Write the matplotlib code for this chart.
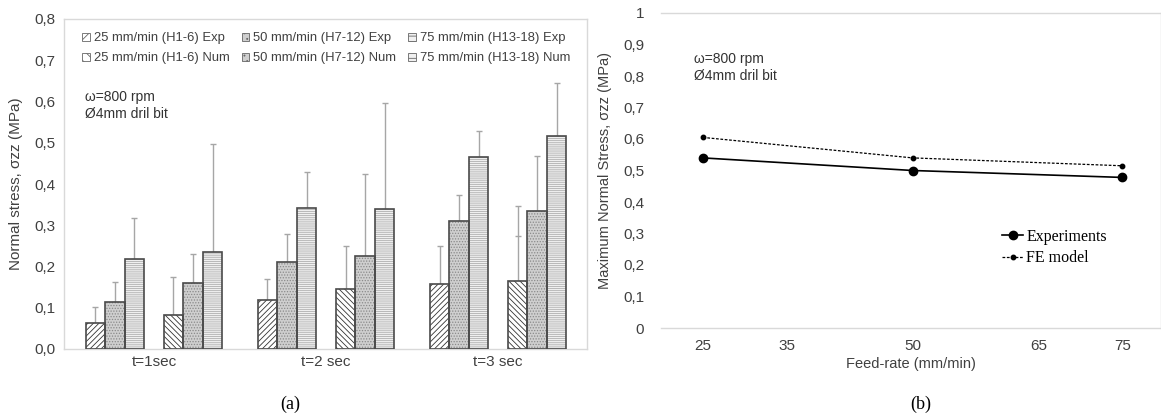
import numpy as np
import matplotlib
matplotlib.use("Agg")
import matplotlib.pyplot as plt
from matplotlib.patches import Patch

plt.rcParams['font.family'] = ['Liberation Sans', 'DejaVu Sans']
plt.rcParams['hatch.linewidth'] = 0.6

# ---------------- data: panel (a) ----------------
t_labels = ['t=1sec', 't=2 sec', 't=3 sec']
exp_25 = [0.064, 0.118, 0.158]
exp_50 = [0.115, 0.212, 0.310]
exp_75 = [0.217, 0.341, 0.466]
num_25 = [0.082, 0.146, 0.165]
num_50 = [0.159, 0.226, 0.334]
num_75 = [0.235, 0.339, 0.516]
exp_25_top = [0.102, 0.170, 0.250]
exp_50_top = [0.163, 0.280, 0.373]
exp_75_top = [0.318, 0.430, 0.528]
num_25_top = [0.175, 0.250, 0.347]
num_50_top = [0.230, 0.425, 0.468]
num_75_top = [0.497, 0.596, 0.645]
num_25_extra_cap = [np.nan, np.nan, 0.274]
series_labels = ['25 mm/min (H1-6) Exp', '50 mm/min (H7-12) Exp', '75 mm/min (H13-18) Exp',
                 '25 mm/min (H1-6) Num', '50 mm/min (H7-12) Num', '75 mm/min (H13-18) Num']
a_yticks = [0.0, 0.1, 0.2, 0.3, 0.4, 0.5, 0.6, 0.7, 0.8]

# ---------------- data: panel (b) ----------------
feed = [25, 50, 75]
exp_max = [0.540, 0.500, 0.478]
fe_max = [0.605, 0.540, 0.515]
b_xticks = [25, 35, 50, 65, 75]
b_yticks = [0, 0.1, 0.2, 0.3, 0.4, 0.5, 0.6, 0.7, 0.8, 0.9, 1]

W, H = 1161, 416
fig = plt.figure(figsize=(W / 100, H / 100), dpi=100)

def frac(x0, y0, x1, y1):
    return [x0 / W, 1 - y1 / H, (x1 - x0) / W, (y1 - y0) / H]

frame_c = '#d9d9d9'
text_c = '#404040'

# ---------------- panel (a) ----------------
ax = fig.add_axes(frac(64, 19, 587, 349))
x = np.arange(len(t_labels))
w = 0.1134
values = [exp_25, exp_50, exp_75, num_25, num_50, num_75]
tops = [exp_25_top, exp_50_top, exp_75_top, num_25_top, num_50_top, num_75_top]
offsets = [-3, -2, -1, 1, 2, 3]
styles = [
    dict(face='white', hatch='//////', hc='#333333'),
    dict(face='#cfcfcf', hatch='......', hc='#8a8a8a'),
    dict(face='#f0f0f0', hatch='--------', hc='#b0b0b0'),
    dict(face='white', hatch='\\\\\\\\\\\\', hc='#333333'),
    dict(face='#cfcfcf', hatch='......', hc='#8a8a8a'),
    dict(face='#f0f0f0', hatch='--------', hc='#b0b0b0'),
]
handles = []
for vals, top, off, st, lab in zip(values, tops, offsets, styles, series_labels):
    xs = x + off * w
    ax.bar(xs, vals, w, color=st['face'], hatch=st['hatch'], edgecolor=st['hc'], linewidth=0, zorder=2)
    ax.bar(xs, vals, w, fill=False, edgecolor='#4a4a4a', linewidth=1.2, zorder=3)
    err = np.array(top) - np.array(vals)
    ax.errorbar(xs, vals, yerr=[np.zeros_like(err), err], fmt='none', ecolor='#a6a6a6',
                elinewidth=1.0, capsize=2, capthick=1.0, zorder=1)
    handles.append(Patch(facecolor=st['face'], hatch=st['hatch'][:3], edgecolor='#666666', linewidth=0.6, label=lab))
ax.plot(x + 1 * w, num_25_extra_cap, linestyle='none', marker='_', markersize=4,
        color='#a6a6a6', markeredgewidth=1.0, zorder=1)

ax.set_xlim(-0.523, 2.517)
ax.set_ylim(0, 0.8)
ax.set_yticks(a_yticks)
ax.set_yticklabels([f'{v:.1f}'.replace('.', ',') for v in a_yticks])
ax.set_xticks(x)
ax.set_xticklabels(t_labels)
ax.tick_params(axis='both', length=0, labelsize=11, colors=text_c, pad=6)
ax.tick_params(axis='x', pad=4)
for s in ax.spines.values():
    s.set_color(frame_c)
    s.set_linewidth(1.0)
ax.set_ylabel('Normal stress, σzz (MPa)', fontsize=11, color=text_c, labelpad=8)

order = [0, 3, 1, 4, 2, 5]
leg = ax.legend([handles[i] for i in order], [series_labels[i] for i in order], ncol=3,
                loc='upper left', bbox_to_anchor=(0.025, 0.975), frameon=False, fontsize=9.4,
                handlelength=0.6, handleheight=0.6, handletextpad=0.3, columnspacing=0.9,
                labelspacing=0.6, borderaxespad=0)
for t in leg.get_texts():
    t.set_color(text_c)
ax.text(0.04, 0.785, 'ω=800 rpm\nØ4mm dril bit', transform=ax.transAxes, fontsize=10,
        color='#333333', va='top', ha='left', linespacing=1.25)

# ---------------- panel (b) ----------------
bx = fig.add_axes(frac(661, 13, 1161, 328))
bx.plot(feed, exp_max, color='black', linewidth=1.2, marker='o', markersize=6, label='Experiments', zorder=3)
bx.plot(feed, fe_max, color='black', linewidth=0.9, linestyle=(0, (2.2, 1.3)), marker='o', markersize=3.2,
        label='FE model', zorder=3)
bx.set_xlim(20, 79.6)
bx.set_ylim(0, 1)
bx.set_xticks(b_xticks)
bx.set_yticks(b_yticks)
bx.set_yticklabels(['0' if v == 0 else ('1' if v == 1 else f'{v:.1f}'.replace('.', ',')) for v in b_yticks])
bx.tick_params(axis='both', length=0, labelsize=11, colors=text_c)
bx.tick_params(axis='y', pad=12)
bx.tick_params(axis='x', pad=8)
bx.spines['left'].set_visible(False)
for k in ['top', 'bottom', 'right']:
    bx.spines[k].set_color(frame_c)
    bx.spines[k].set_linewidth(1.0)
bx.set_xlabel('Feed-rate (mm/min)', fontsize=10.5, color=text_c, labelpad=3)
bx.set_ylabel('Maximum Normal Stress, σzz (MPa)', fontsize=10.5, color=text_c, labelpad=8)
bx.text(0.065, 0.875, 'ω=800 rpm\nØ4mm dril bit', transform=bx.transAxes, fontsize=10,
        color='#333333', va='top', ha='left', linespacing=1.25)
bleg = bx.legend(loc='upper left', bbox_to_anchor=(0.67, 0.335), frameon=False,
                 prop={'family': 'Liberation Serif', 'size': 11.5}, handlelength=1.3,
                 handletextpad=0.2, labelspacing=0.35, borderaxespad=0)

# panel captions
fig.text(290 / W, 1 - 404 / H, '(a)', fontsize=13, family='Liberation Serif', ha='center', va='center')
fig.text(921 / W, 1 - 404 / H, '(b)', fontsize=13, family='Liberation Serif', ha='center', va='center')

fig.savefig('out.png', dpi=100)
